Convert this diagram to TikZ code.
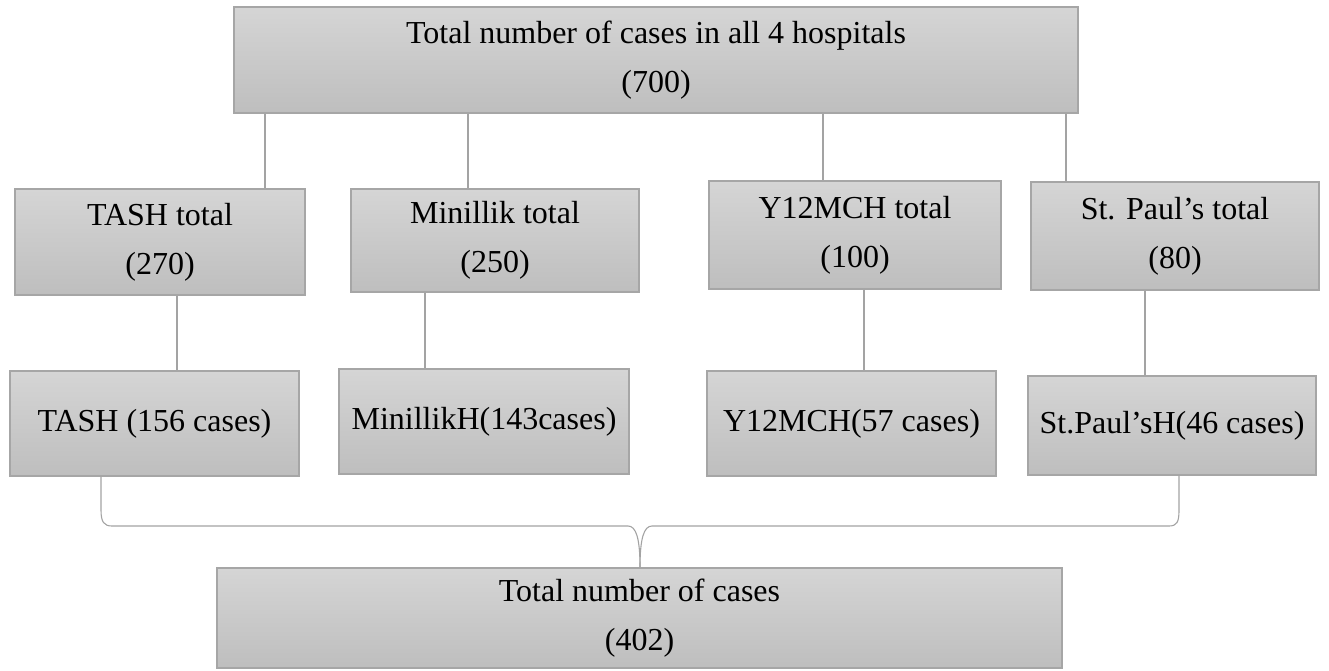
\documentclass[tikz,border=0pt]{standalone}
\usepackage{fontspec}
\setmainfont{Liberation Serif}
\definecolor{boxtop}{HTML}{D5D5D5}
\definecolor{boxbot}{HTML}{BEBEBE}
\definecolor{boxline}{HTML}{A6A6A6}
\definecolor{connline}{HTML}{A3A3A3}
\tikzset{
  hbox/.style={draw=boxline, line width=1.3pt, top color=boxtop, bottom color=boxbot,
    inner sep=0pt, align=center, font=\fontsize{32}{49}\selectfont},
  conn/.style={draw=connline, line width=1.3pt},
}
\begin{document}
\begin{tikzpicture}[x=1pt,y=-1pt]
\useasboundingbox (0,0) rectangle (1329,671);
% boxes
\node[hbox, minimum width=844pt, minimum height=106pt] (top) at (656,60) {Total number of cases in all 4 hospitals\\(700)};
\node[hbox, minimum width=290pt, minimum height=106pt] (tasht) at (160,242) {TASH total\\(270)};
\node[hbox, minimum width=288pt, minimum height=103pt] (minit) at (495,240.5) {Minillik total\\(250)};
\node[hbox, minimum width=292pt, minimum height=108pt] (y12t) at (855,235) {Y12MCH total\\(100)};
\node[hbox, minimum width=288pt, minimum height=108pt] (spt) at (1175,236) {St. Paul’s total\\(80)};
\node[hbox, minimum width=289pt, minimum height=105pt] (tashc) at (154.5,423.5) {TASH (156 cases)};
\node[hbox, minimum width=290pt, minimum height=105pt] (minic) at (484,421.5) {MinillikH(143cases)};
\node[hbox, minimum width=289pt, minimum height=105pt] (y12c) at (851.5,423.5) {Y12MCH(57 cases)};
\node[hbox, minimum width=288pt, minimum height=99pt] (spc) at (1172,425.5) {St.Paul’sH(46 cases)};
\node[hbox, minimum width=845pt, minimum height=100pt] (total) at (639.5,618) {Total number of cases\\(402)};
% connector x positions
\coordinate (c1) at (265,0);
\coordinate (c2) at (468,0);
\coordinate (c3) at (823,0);
\coordinate (c4) at (1066,0);
\coordinate (d1) at (177,0);
\coordinate (d2) at (425,0);
\coordinate (d3) at (864,0);
\coordinate (d4) at (1145,0);
\coordinate (b1) at (101,0);
\coordinate (b2) at (1179,0);
\coordinate (bm) at (640,0);
% connectors top -> totals
\draw[conn] (top.south -| c1) -- (tasht.north -| c1);
\draw[conn] (top.south -| c2) -- (minit.north -| c2);
\draw[conn] (top.south -| c3) -- (y12t.north -| c3);
\draw[conn] (top.south -| c4) -- (spt.north -| c4);
% totals -> cases
\draw[conn] (tasht.south -| d1) -- (tashc.north -| d1);
\draw[conn] (minit.south -| d2) -- (minic.north -| d2);
\draw[conn] (y12t.south -| d3) -- (y12c.north -| d3);
\draw[conn] (spt.south -| d4) -- (spc.north -| d4);
% brace
\draw[conn, line width=1.1pt] (tashc.south -| b1) -- (101,510) .. controls (101,522) and (104,526) .. (112,526)
  -- (628,526) .. controls (636,526) and (640,538) .. (total.north -| bm);
\draw[conn, line width=1.1pt] (total.north -| bm) .. controls (640,538) and (644,526) .. (652,526)
  -- (1169,526) .. controls (1177,526) and (1179,522) .. (1179,510) -- (spc.south -| b2);
\end{tikzpicture}
\end{document}
